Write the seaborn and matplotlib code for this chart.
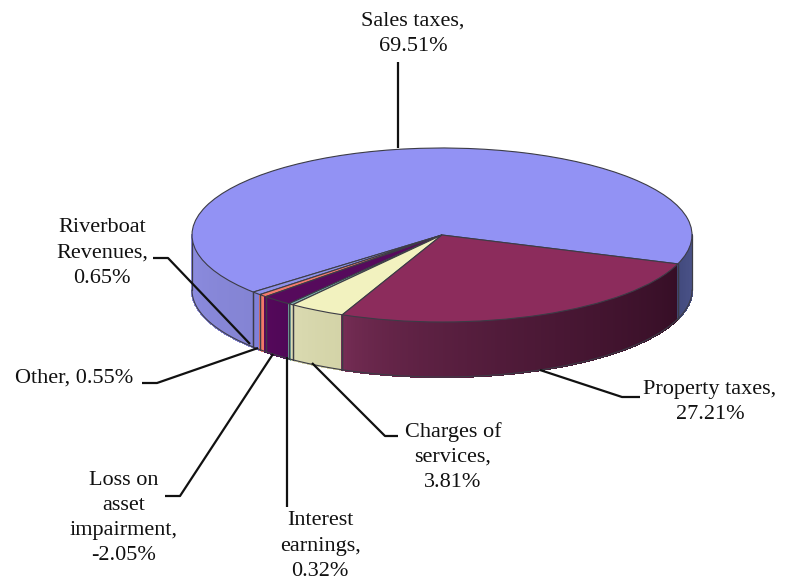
import numpy as np
import matplotlib
matplotlib.use("Agg")
import matplotlib.pyplot as plt
from matplotlib.colors import to_rgb
import seaborn as sns

# Data (counter-clockwise drawing order)
categories = ["Sales taxes,", "Riverboat\nRevenues,", "Other,", "Loss on\nasset\nimpairment,",
              "Interest\nearnings,", "Charges of\nservices,", "Property taxes,"]
values = [69.51, 0.65, 0.55, -2.05, 0.32, 3.81, 27.21]
separators = ["\n", "\n", " ", "\n", "\n", "\n", "\n"]

top_colors = ["#9292f4", "#8f92ea", "#f47a6c", "#560a5c", "#7fb4b0", "#f2f2bf", "#8c2c5c"]
wall_left = ["#9090e6", "#8080d8", "#f07868", "#58085c", "#78aca8", "#dcdcb4", "#7a2f58"]
wall_right = ["#8484d4", "#8080d8", "#f07868", "#500858", "#78aca8", "#d4d4a8", "#360e26"]
wall_far_right = ("#40487a", "#4a5288")

# Layout (pixels of the 795x584 figure)
CX, CY, RX, RY, DEPTH = 442, 235, 250, 87, 55
START = -19.4
label_xy = [(413, 34), (102, 253), (74, 378), (124, 518), (320, 546), (453, 457), (710, 402)]
leaders = [
    [(398, 148), (398, 62)],
    [(250, 344), (168, 258), (153, 258)],
    [(258, 348), (157, 383), (142, 383)],
    [(273, 354), (180, 496), (165, 496)],
    [(287, 357), (287, 507)],
    [(312, 363), (385, 436), (398, 436)],
    [(540, 370), (622, 397), (640, 397)],
]

sns.set_theme(style="white")
plt.rcParams["font.family"] = ["Liberation Serif", "DejaVu Serif"]

fig = plt.figure(figsize=(7.95, 5.84), dpi=100, facecolor="white")
ax = fig.add_axes([0, 0, 1, 1])


def px(x, y):
    """Figure pixel -> unit-circle data coordinates of the pie."""
    return (x - CX) / RX, (CY - y) / RY


sizes = np.abs(values)
angles = START + np.concatenate([[0], np.cumsum(sizes) / sizes.sum() * 360])
depth = DEPTH / RY
edge = "#3c3c46"


def wall(a0, a1, c0, c1):
    """Shaded outer wall for a wedge between angles a0 and a1 (degrees)."""
    n = max(2, int(abs(a1 - a0)) * 2)
    t = np.linspace(a0, a1, n + 1)
    c0, c1 = np.array(to_rgb(c0)), np.array(to_rgb(c1))
    for i in range(n):
        th = np.radians(t[i:i + 2])
        xs = np.r_[np.cos(th), np.cos(th[::-1])]
        ys = np.r_[np.sin(th), np.sin(th[::-1]) - depth]
        col = c0 + (c1 - c0) * ((i + 0.5) / n) ** 0.55
        ax.fill(xs, ys, color=col, lw=1.0, antialiased=False, zorder=1)
    th = np.radians(t)
    ax.plot(np.cos(th), np.sin(th) - depth, color=edge, lw=0.8, zorder=1.5)
    for a in (a0, a1):
        r = np.radians(a)
        ax.plot([np.cos(r)] * 2, [np.sin(r), np.sin(r) - depth], color=edge, lw=0.9, zorder=1.5)


for i in range(len(values)):
    a0, a1 = angles[i], angles[i + 1]
    if i == 0:
        wall(180, a1, wall_left[0], wall_right[0])
    else:
        wall(a0, a1, wall_left[i], wall_right[i])
wall(angles[-1], 360, *wall_far_right)

ax.pie(sizes, colors=top_colors, startangle=START, counterclock=True, radius=1,
       wedgeprops=dict(edgecolor=edge, linewidth=0.8, zorder=2))
ax.set_aspect("auto")
ax.set_xlim(px(0, 0)[0], px(795, 0)[0])
ax.set_ylim(px(0, 584)[1], px(0, 0)[1])
ax.axis("off")

for path in leaders:
    pts = np.array([px(*p) for p in path])
    ax.plot(pts[:, 0], pts[:, 1], color="#111111", lw=1.6, zorder=3, solid_capstyle="butt")

for cat, val, sep, (x, y) in zip(categories, values, separators, label_xy):
    ax.text(*px(x, y), f"{cat}{sep}{val:.2f}%", ha="center", va="center", fontsize=16,
            color="#111111", linespacing=1.45, zorder=4)

fig.savefig("out.png", dpi=100, facecolor="white")
